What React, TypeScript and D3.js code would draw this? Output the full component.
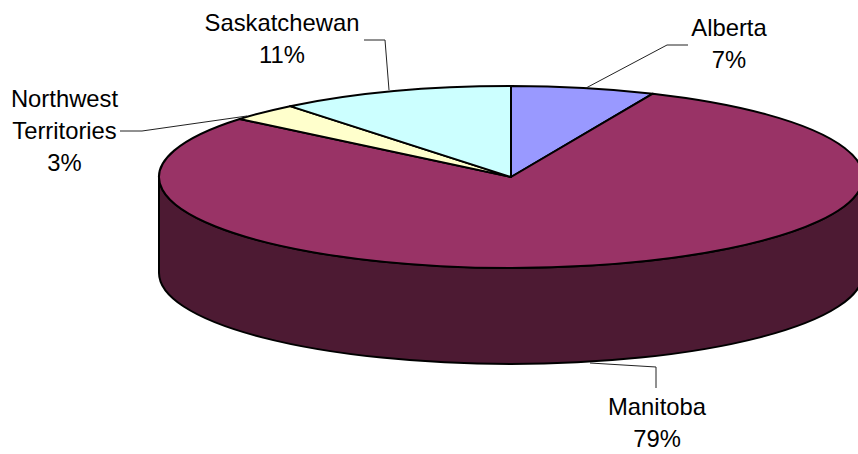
import React from 'react';
import * as d3 from 'd3';

const provinces = ['Alberta', 'Manitoba', 'Northwest Territories', 'Saskatchewan'];
const shares = [6.6, 79.4, 3.2, 10.8];
const sliceColors = ['#9999FF', '#993366', '#FFFFCC', '#CCFFFF'];

const WIDTH = 858;
const HEIGHT = 454;
const CX = 511;
const CY = 177;
const RX = 352;
const RY = 91;
const DEPTH = 96;
const LINE_GAP = 32;
const WALL_COLOR = '#4D1A33';
const FONT = '"Liberation Sans", Arial, sans-serif';

// label text lines and leader lines, placed by hand like the original
const labelLayout = [
  { x: 729, y: 36, lines: ['Alberta'], leader: [[688, 45], [667, 45], [586, 88]] },
  { x: 657, y: 415, lines: ['Manitoba'], leader: [[590, 363], [656, 367], [656, 388]] },
  { x: 64.5, y: 107, lines: ['Northwest', 'Territories'], leader: [[120, 131], [142, 131], [247, 116]] },
  { x: 282, y: 31, lines: ['Saskatchewan'], leader: [[364, 40], [385, 40], [389, 90]] },
];

const App = () => {
  const pieData = d3.pie<number>().sort(null)(shares);
  const arc = d3.arc<d3.PieArcDatum<number>>().innerRadius(0).outerRadius(RX);
  const squash = RY / RX;

  // the visible side of the disc, in unsquashed coordinates
  const wall = d3.path();
  const d = DEPTH / squash;
  wall.moveTo(-RX, 0);
  wall.arc(0, 0, RX, Math.PI, 0, true);
  wall.lineTo(RX, d);
  wall.arc(0, d, RX, 0, Math.PI, false);
  wall.closePath();

  const leaderLine = d3.line();

  return (
    <svg
      width={WIDTH}
      height={HEIGHT}
      style={{ position: 'absolute', left: 0, top: 0, background: '#fff' }}
      fontFamily={FONT}
      fontSize={23.8}
    >
      <g transform={`translate(${CX},${CY}) scale(1,${squash})`}>
        <path
          d={wall.toString()}
          fill={WALL_COLOR}
          stroke="#000"
          strokeWidth={2}
          vectorEffect="non-scaling-stroke"
        />
        {pieData.map((p, i) => (
          <path
            key={provinces[i]}
            d={arc(p) as string}
            fill={sliceColors[i]}
            stroke="#000"
            strokeWidth={2}
            strokeLinejoin="round"
            vectorEffect="non-scaling-stroke"
          />
        ))}
      </g>
      {labelLayout.map((l, i) => (
        <g key={provinces[i]}>
          <path
            d={leaderLine(l.leader as [number, number][]) as string}
            fill="none"
            stroke="#222"
            strokeWidth={1}
          />
          <text x={l.x} y={l.y} textAnchor="middle" fill="#000">
            {l.lines.map((t, j) => (
              <tspan key={t} x={l.x} dy={j === 0 ? 0 : LINE_GAP}>
                {t}
              </tspan>
            ))}
            <tspan x={l.x} dy={LINE_GAP}>
              {d3.format('.0f')(shares[i])}%
            </tspan>
          </text>
        </g>
      ))}
    </svg>
  );
};

export default App;
